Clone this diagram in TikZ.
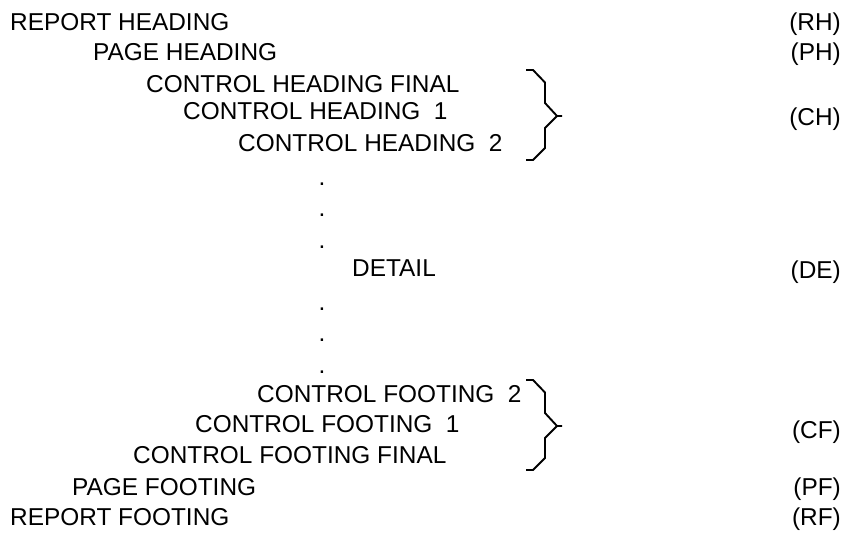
\documentclass[tikz,border=0pt]{standalone}
\usepackage{fontspec}
\setmainfont{Liberation Sans}
\usetikzlibrary{positioning}

\begin{document}
\begin{tikzpicture}[x=1pt,y=-1pt,
    sect/.style={anchor=base west,inner sep=0pt,font=\fontsize{24.4}{29}\selectfont},
    abbr/.style={anchor=base east,inner sep=0pt,font=\fontsize{24.4}{29}\selectfont},
    gap/.style={anchor=base,inner sep=0pt,font=\fontsize{24.4}{29}\selectfont},
    brk/.style={line width=1.9pt,line join=miter},
    pics/bracket/.style={code={
      \draw[brk] (0,0) -- (7,0) -- (19,12.5) -- (19,33) -- (31,46) -- (36,46);
      \draw[brk] (31,46) -- (19,58) -- (19,78) -- (7,90) -- (0,90);}}]
    \useasboundingbox (0,0) rectangle (845,534);
    % left: report sections, indented by level
    \foreach \n/\x/\y/\t in {rh/10/31/REPORT HEADING,ph/93/61/PAGE HEADING,
        chf/146/93/CONTROL HEADING FINAL,ch1/183/120/CONTROL HEADING~~1,
        ch2/238/152/CONTROL HEADING~~2,de/352/277/DETAIL,
        cf2/257/402/CONTROL FOOTING~~2,cf1/195/432/CONTROL FOOTING~~1,
        cff/133/463/CONTROL FOOTING FINAL,pf/72/495/PAGE FOOTING,rf/10/525/REPORT FOOTING}
      \node[sect] (\n) at (\x,\y) {\t};
    % elided lines above and below the detail
    \foreach \i/\y in {1/186,2/217,3/249,4/310,5/341,6/373}
      \node[gap] (g\i) at (322,\y) {.};
    % brackets round the control groups
    \pic at (526,70) {bracket};
    \pic at (526,380) {bracket};
    % right: abbreviations
    \foreach \n/\y/\t in {rh/31/RH,ph/61/PH,ch/126/CH,de/279/DE,cf/438/CF,pf/495/PF,rf/525/RF}
      \node[abbr] (t\n) at (841,\y) {(\t)};
\end{tikzpicture}
\end{document}
